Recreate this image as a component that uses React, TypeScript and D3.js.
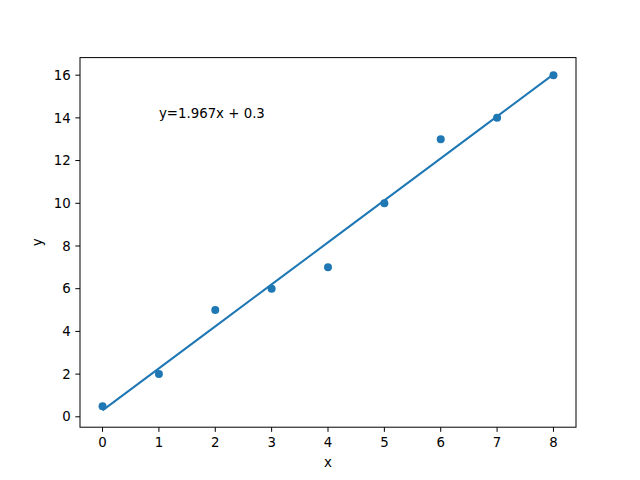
import React from "react";
import * as d3 from "d3";

const width = 640;
const height = 480;
const margin = { top: 57.6, right: 64, bottom: 52.8, left: 80 };

const xValues = [0, 1, 2, 3, 4, 5, 6, 7, 8];
const yValues = [0.5, 2, 5, 6, 7, 10, 13, 14, 16];
const xTicks = [0, 1, 2, 3, 4, 5, 6, 7, 8];
const yTicks = [0, 2, 4, 6, 8, 10, 12, 14, 16];
const slope = 1.967;
const intercept = 0.3;
const annotation = "y=1.967x + 0.3";

const color = "#1f77b4";
const font = "DejaVu Sans, sans-serif";

export default function App() {
  const innerW = width - margin.left - margin.right;
  const innerH = height - margin.top - margin.bottom;

  const fitted = xValues.map((x) => slope * x + intercept);
  const allY = yValues.concat(fitted);
  const yMin = d3.min(allY) as number;
  const yMax = d3.max(allY) as number;
  const yPad = (yMax - yMin) * 0.05;
  const xMin = d3.min(xValues) as number;
  const xMax = d3.max(xValues) as number;
  const xPad = (xMax - xMin) * 0.05;

  const x = d3.scaleLinear().domain([xMin - xPad, xMax + xPad]).range([0, innerW]);
  const y = d3.scaleLinear().domain([yMin - yPad, yMax + yPad]).range([innerH, 0]);

  const line = d3
    .line<number>()
    .x((d, i) => x(xValues[i]))
    .y((d) => y(d));

  return (
    <svg
      width={width}
      height={height}
      style={{ position: "absolute", left: 0, top: 0, background: "#fff" }}
      fontFamily={font}
    >
      <g transform={`translate(${margin.left},${margin.top})`}>
        <path d={line(fitted) || ""} fill="none" stroke={color} strokeWidth={2} />
        {xValues.map((xv, i) => (
          <circle key={i} cx={x(xv)} cy={y(yValues[i])} r={4} fill={color} />
        ))}
        <text x={x(1)} y={y(14)} fontSize={13.33} fill="#000">
          {annotation}
        </text>
        <rect width={innerW} height={innerH} fill="none" stroke="#000" strokeWidth={1} />
        {xTicks.map((t) => (
          <g key={t} transform={`translate(${x(t)},${innerH})`}>
            <line y2={4.67} stroke="#000" strokeWidth={1} />
            <text y={9.3} dy="0.76em" textAnchor="middle" fontSize={13.33}>
              {t}
            </text>
          </g>
        ))}
        {yTicks.map((t) => (
          <g key={t} transform={`translate(0,${y(t)})`}>
            <line x2={-4.67} stroke="#000" strokeWidth={1} />
            <text x={-9.3} dy="0.35em" textAnchor="end" fontSize={13.33}>
              {t}
            </text>
          </g>
        ))}
        <text x={innerW / 2} y={innerH + 39.5} textAnchor="middle" fontSize={13.33}>
          x
        </text>
        <text
          transform={`translate(${-38.5},${innerH / 2}) rotate(-90)`}
          textAnchor="middle"
          fontSize={13.33}
        >
          y
        </text>
      </g>
    </svg>
  );
}
